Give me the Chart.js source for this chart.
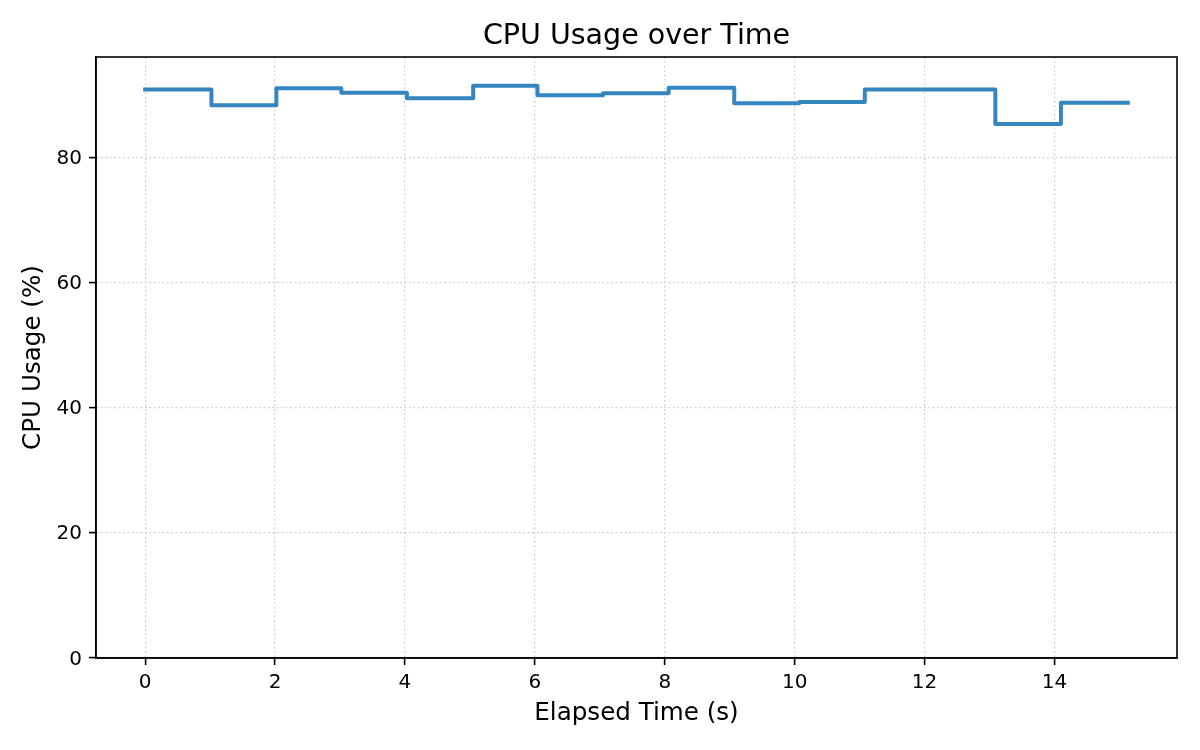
<!DOCTYPE html>
<html>
<head>
<meta charset="utf-8">
<script src="https://cdn.jsdelivr.net/npm/chart.js@4.4.1/dist/chart.umd.min.js"></script>
<style>
  html, body { margin: 0; padding: 0; background: #ffffff; }
  #wrap { width: 1200px; height: 750px; }
</style>
</head>
<body>
<div id="wrap"><canvas id="c" width="1200" height="750"></canvas></div>
<script>
const chartTitle = 'CPU Usage over Time';
const xAxisTitle = 'Elapsed Time (s)';
const yAxisTitle = 'CPU Usage (%)';
const elapsedTimes = [0, 1.02, 2.02, 3.02, 4.03, 5.05, 6.04, 7.05, 8.06, 9.07, 10.07, 11.08, 12.08, 13.09, 14.10, 15.13];
const cpuUsage = [90.8, 88.3, 91.0, 90.3, 89.4, 91.4, 89.9, 90.2, 91.1, 88.6, 88.8, 90.8, 90.8, 85.3, 88.7, 88.7];
const xTickValues = [0, 2, 4, 6, 8, 10, 12, 14];
const yTickValues = [0, 20, 40, 60, 80];

const FONT = '"DejaVu Sans", "Liberation Sans", sans-serif';

const xMin = -0.757, xMax = 15.887;
const yMin = 0, yMax = 96;

const framePlugin = {
  id: 'frameAndTitle',
  afterDraw(chart) {
    const { ctx, chartArea: a } = chart;
    ctx.save();
    ctx.strokeStyle = '#000000';
    ctx.lineWidth = 1.6;
    ctx.strokeRect(a.left, a.top, a.right - a.left, a.bottom - a.top);
    ctx.font = '28.5px ' + FONT;
    ctx.fillStyle = '#000000';
    ctx.textAlign = 'center';
    ctx.textBaseline = 'alphabetic';
    ctx.fillText(chartTitle, (a.left + a.right) / 2, a.top - 13);
    ctx.restore();
  }
};

new Chart(document.getElementById('c'), {
  type: 'line',
  data: {
    datasets: [{
      data: elapsedTimes.map((t, i) => ({ x: t, y: cpuUsage[i] })),
      stepped: 'before',
      borderColor: '#3586c0',
      borderWidth: 4,
      borderCapStyle: 'square',
      borderJoinStyle: 'round',
      pointRadius: 0,
      fill: false,
      tension: 0
    }]
  },
  options: {
    responsive: false,
    devicePixelRatio: 1,
    animation: false,
    layout: { padding: { top: 57, right: 23, left: 0, bottom: 0 } },
    plugins: {
      legend: { display: false },
      tooltip: { enabled: false },
      title: { display: false }
    },
    scales: {
      x: {
        type: 'linear',
        min: xMin,
        max: xMax,
        afterBuildTicks: s => { s.ticks = xTickValues.map(v => ({ value: v })); },
        afterFit: s => { s.height = 92; },
        ticks: {
          includeBounds: false,
          font: { family: FONT, size: 20 },
          color: '#000000',
          padding: 6,
          maxRotation: 0,
          autoSkip: false,
          callback: v => String(v)
        },
        grid: {
          color: '#cccccc',
          lineWidth: 1.2,
          tickColor: '#000000',
          tickLength: 7,
          tickWidth: 1.6
        },
        border: { display: true, color: '#000000', width: 1.6, dash: [1.7, 2.7] },
        title: {
          display: true,
          text: xAxisTitle,
          color: '#000000',
          font: { family: FONT, size: 24.6 },
          padding: { top: 0, bottom: 22 }
        }
      },
      y: {
        type: 'linear',
        min: yMin,
        max: yMax,
        afterBuildTicks: s => { s.ticks = yTickValues.map(v => ({ value: v })); },
        afterFit: s => { s.width = 96; },
        ticks: {
          includeBounds: false,
          font: { family: FONT, size: 20 },
          color: '#000000',
          padding: 7,
          labelOffset: 1.5,
          callback: v => String(v)
        },
        grid: {
          color: '#cccccc',
          lineWidth: 1.2,
          tickColor: '#000000',
          tickLength: 7,
          tickWidth: 1.6
        },
        border: { display: true, color: '#000000', width: 1.6, dash: [1.7, 2.7] },
        title: {
          display: true,
          text: yAxisTitle,
          color: '#000000',
          font: { family: FONT, size: 24.6 },
          padding: { top: 19, bottom: 0 }
        }
      }
    }
  },
  plugins: [framePlugin]
});
</script>
</body>
</html>
